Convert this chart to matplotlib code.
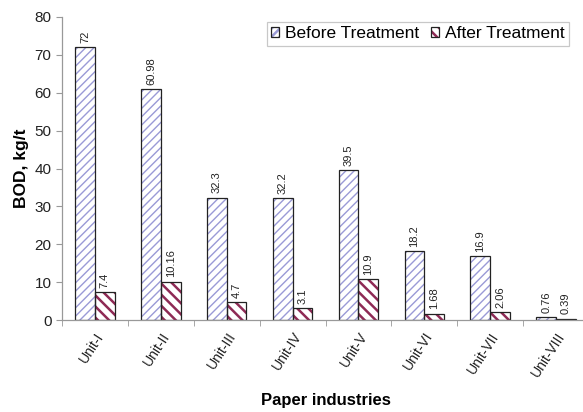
import matplotlib.pyplot as plt
from matplotlib.ticker import FixedLocator

plt.rcParams['font.family'] = ['Liberation Sans', 'DejaVu Sans']

units = ['Unit-I', 'Unit-II', 'Unit-III', 'Unit-IV', 'Unit-V', 'Unit-VI', 'Unit-VII', 'Unit-VIII']
before = [72, 60.98, 32.3, 32.2, 39.5, 18.2, 16.9, 0.76]
after = [7.4, 10.16, 4.7, 3.1, 10.9, 1.68, 2.06, 0.39]
before_lbl = ['72', '60.98', '32.3', '32.2', '39.5', '18.2', '16.9', '0.76']
after_lbl = ['7.4', '10.16', '4.7', '3.1', '10.9', '1.68', '2.06', '0.39']

fig = plt.figure(figsize=(5.83, 4.12), dpi=100)
ax = fig.add_axes([62 / 583, 92 / 412, 527 / 583, 303 / 412])

x = list(range(len(units)))
w = 0.3
xb = [i - w / 2 for i in x]
xa = [i + w / 2 for i in x]

# hatch layer first, black outline on top
plt.rcParams['hatch.linewidth'] = 1.0
hb = ax.bar(xb, before, w, color='white', edgecolor='#9a9ad6', hatch='////', linewidth=0)
plt.rcParams['hatch.linewidth'] = 1.8
ha = ax.bar(xa, after, w, color='white', edgecolor='#8e2a55', hatch='\\\\\\', linewidth=0)
ob = ax.bar(xb, before, w, fill=False, edgecolor='#222222', linewidth=0.9)
oa = ax.bar(xa, after, w, fill=False, edgecolor='#222222', linewidth=0.9)

for xi, v, t in zip(xb, before, before_lbl):
    ax.annotate(t, (xi, v), xytext=(0, 3), textcoords='offset points',
                rotation=90, ha='center', va='bottom', fontsize=8, color='#222222')
for xi, v, t in zip(xa, after, after_lbl):
    ax.annotate(t, (xi, v), xytext=(0, 3), textcoords='offset points',
                rotation=90, ha='center', va='bottom', fontsize=8, color='#222222')

ax.set_xlim(-0.5, 7.5)
ax.set_ylim(0, 80)
ax.set_yticks(range(0, 81, 10))
ax.set_xticks(x)
ax.set_xticklabels(units, rotation=57, ha='right', rotation_mode='anchor', fontsize=10)
ax.xaxis.set_minor_locator(FixedLocator([i - 0.5 for i in range(len(units) + 1)]))
ax.tick_params(axis='x', which='major', length=0, pad=7, colors='#222222')
ax.tick_params(axis='x', which='minor', length=4, color='#999999')
ax.tick_params(axis='y', length=4, color='#999999', labelsize=11, labelcolor='#222222')

for s in ['top', 'right']:
    ax.spines[s].set_visible(False)
for s in ['left', 'bottom']:
    ax.spines[s].set_color('#999999')
    ax.spines[s].set_linewidth(0.9)

ax.set_ylabel('BOD, kg/t', fontsize=12.5, fontweight='bold', labelpad=4)
ax.set_xlabel('Paper industries', fontsize=12, fontweight='bold', labelpad=10)

leg = ax.legend([(hb, ob), (ha, oa)], ['Before Treatment', 'After Treatment'],
                loc='upper right', bbox_to_anchor=(569 / 583, 1 - 22 / 412),
                bbox_transform=fig.transFigure, fontsize=12.5, frameon=True,
                fancybox=False, handlelength=0.45, handleheight=0.45,
                handletextpad=0.35, ncol=2, columnspacing=0.7,
                borderpad=0.25, borderaxespad=0)
leg.get_frame().set_edgecolor('#bbbbbb')
leg.get_frame().set_linewidth(0.9)

fig.savefig('out.png', dpi=100)
